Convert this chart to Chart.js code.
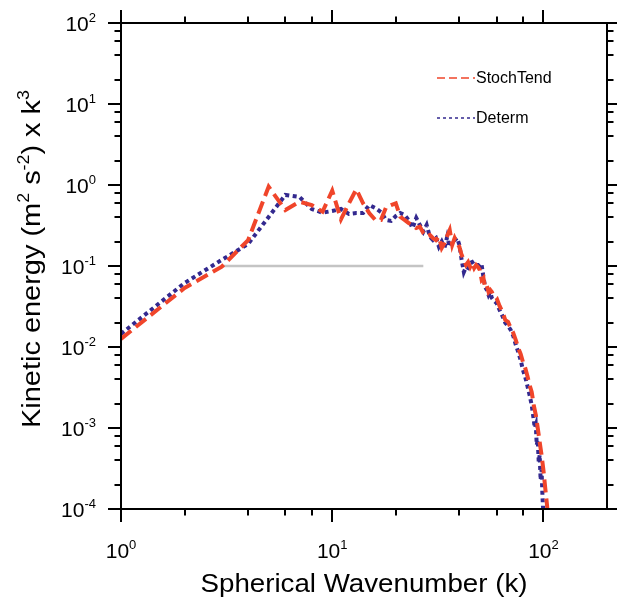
<!DOCTYPE html>
<html>
<head>
<meta charset="utf-8">
<script src="https://cdn.jsdelivr.net/npm/chart.js@4.4.1/dist/chart.umd.min.js"></script>
<style>
  html, body { margin: 0; padding: 0; background: #fff; }
</style>
</head>
<body>
<canvas id="myChart" width="617" height="598"></canvas>
<script>
// Spectra (kinetic energy x k^3 against spherical wavenumber)
const stochK = [1, 2, 3, 4, 5, 6, 7, 8, 9, 10, 11, 12, 13, 14, 15, 16, 17, 18, 19, 20,
  21, 22, 23, 24, 25, 26, 27, 28, 29, 30, 31, 32, 33, 34, 35, 36, 37, 38, 39, 40,
  41, 42, 43, 44, 45, 46, 47, 48, 49, 50, 51, 52, 53, 54, 55, 56, 57, 58, 60, 62,
  64, 66, 68, 70, 72, 74, 76, 78, 80, 82, 84, 86, 88, 90, 92, 94, 96, 98, 100, 102, 104, 106];
const stochE = [0.0126, 0.0535, 0.098, 0.209, 0.953, 0.491, 0.622, 0.566, 0.468, 0.851,
  0.377, 0.594, 0.885, 0.594, 0.448, 0.370, 0.370, 0.531, 0.566, 0.594,
  0.406, 0.370, 0.340, 0.321, 0.294, 0.306, 0.255, 0.230, 0.241, 0.220,
  0.209, 0.230, 0.167, 0.192, 0.235, 0.278, 0.182, 0.222, 0.192, 0.172,
  0.137, 0.119, 0.103, 0.112, 0.0972, 0.109, 0.0944, 0.103, 0.0972, 0.0893,
  0.0672, 0.0711, 0.0535, 0.0566, 0.0478, 0.0506, 0.0478, 0.0426, 0.0403, 0.0321,
  0.0270, 0.0215, 0.0204, 0.0172, 0.0149, 0.0122, 0.00972, 0.00820, 0.00653, 0.00551,
  0.00439, 0.00340, 0.00278, 0.00192, 0.00145, 0.00100, 0.000672, 0.000464, 0.000303,
  0.000182, 0.000112, 0.0000634];

const determK = [1, 2, 3, 4, 5, 6, 7, 8, 9, 10, 11, 12, 13, 14, 15, 16, 17, 18, 19, 20,
  21, 22, 23, 24, 25, 26, 27, 28, 29, 30, 31, 32, 33, 34, 35, 36, 37, 38, 39, 40,
  41, 42, 43, 44, 45, 46, 47, 48, 49, 50, 51, 52, 53, 54, 55, 56, 57, 58, 60, 62,
  64, 66, 68, 70, 72, 74, 76, 78, 80, 82, 84, 86, 88, 90, 91, 92, 93, 94, 95, 96,
  97, 98, 99, 100];
const determE = [0.0145, 0.0617, 0.119, 0.187, 0.403, 0.753, 0.711, 0.506, 0.455, 0.478,
  0.506, 0.439, 0.451, 0.451, 0.566, 0.520, 0.464, 0.370, 0.360, 0.414,
  0.451, 0.426, 0.370, 0.294, 0.392, 0.321, 0.265, 0.321, 0.230, 0.209,
  0.222, 0.173, 0.200, 0.167, 0.228, 0.172, 0.209, 0.209, 0.222, 0.182,
  0.119, 0.0843, 0.0972, 0.0944, 0.109, 0.112, 0.103, 0.103, 0.103, 0.0972,
  0.103, 0.0731, 0.0551, 0.0506, 0.0439, 0.0478, 0.0403, 0.0380, 0.0349, 0.0286,
  0.0241, 0.0198, 0.0182, 0.0162, 0.0137, 0.0106, 0.00867, 0.00691, 0.00520, 0.00426,
  0.00330, 0.00255, 0.00192, 0.00126, 0.00100, 0.00109, 0.000617, 0.000711, 0.000380, 0.000464,
  0.000228, 0.000303, 0.000141, 0.0000843];

// grey reference line
const refK = [3, 27];
const refE = [0.1, 0.1];

// axes
const xMin = 1, xMax = 200;
const yMin = 1e-4, yMax = 100;
const xMajor = [1, 10, 100];
const xMajorExp = ['0', '1', '2'];
const yMajor = [1e-4, 1e-3, 1e-2, 1e-1, 1, 10, 100];
const yMajorExp = ['-4', '-3', '-2', '-1', '0', '1', '2'];
const minorMult = [2, 4, 6, 8];

const FONT = '"Liberation Sans", Arial, Helvetica, sans-serif';

function toPoints(ks, es) {
    return ks.map((k, i) => ({ x: k, y: es[i] }));
}

function minorTicks(lo, hi) {
    const out = [];
    for (let d = Math.floor(Math.log10(lo)); d <= Math.ceil(Math.log10(hi)); d++) {
        minorMult.forEach(m => {
            const v = m * Math.pow(10, d);
            if (v > lo && v < hi) out.push(v);
        });
    }
    return out;
}

// text made of runs, some of them superscripts
function runsWidth(ctx, runs, size) {
    let w = 0;
    runs.forEach(r => {
        ctx.font = (r.sup ? Math.round(size * 0.62) : size) + 'px ' + FONT;
        w += ctx.measureText(r.t).width;
    });
    return w;
}

function drawRuns(ctx, runs, x, y, size) {
    let cx = x;
    runs.forEach(r => {
        ctx.font = (r.sup ? Math.round(size * 0.62) : size) + 'px ' + FONT;
        ctx.fillText(r.t, cx, r.sup ? y - size * 0.42 : y);
        cx += ctx.measureText(r.t).width;
    });
}

const frameAndLabels = {
    id: 'frameAndLabels',
    afterDraw(chart) {
        const { ctx, chartArea: a, scales: { x, y } } = chart;
        ctx.save();
        ctx.strokeStyle = '#000';
        ctx.fillStyle = '#000';
        ctx.lineWidth = 2;
        ctx.strokeRect(a.left, a.top, a.right - a.left, a.bottom - a.top);

        const majorLen = 13, minorLen = 6.5;
        ctx.beginPath();
        const xTick = (v, len) => {
            const px = Math.round(x.getPixelForValue(v));
            ctx.moveTo(px, a.bottom); ctx.lineTo(px, a.bottom + len);
            ctx.moveTo(px, a.top); ctx.lineTo(px, a.top - len);
        };
        const yTick = (v, len) => {
            const py = Math.round(y.getPixelForValue(v));
            ctx.moveTo(a.left, py); ctx.lineTo(a.left - len, py);
            ctx.moveTo(a.right, py); ctx.lineTo(a.right + len, py);
        };
        xMajor.forEach(v => xTick(v, majorLen));
        minorTicks(xMin, xMax).forEach(v => xTick(v, minorLen));
        yMajor.forEach(v => yTick(v, majorLen));
        minorTicks(yMin, yMax).forEach(v => yTick(v, minorLen));
        ctx.stroke();

        // tick labels
        const ts = 21;
        ctx.textAlign = 'left';
        ctx.textBaseline = 'alphabetic';
        xMajor.forEach((v, i) => {
            const runs = [{ t: '10' }, { t: xMajorExp[i], sup: true }];
            const w = runsWidth(ctx, runs, ts);
            drawRuns(ctx, runs, x.getPixelForValue(v) - w / 2, 558, ts);
        });
        yMajor.forEach((v, i) => {
            const runs = [{ t: '10' }, { t: yMajorExp[i], sup: true }];
            const w = runsWidth(ctx, runs, ts);
            drawRuns(ctx, runs, 96 - w, y.getPixelForValue(v) + 7.5, ts);
        });

        // axis titles (the original font is a little wider, so fit to its width)
        const titleSize = 26;
        const xRuns = [{ t: 'Spherical Wavenumber (k)' }];
        const xw = runsWidth(ctx, xRuns, titleSize);
        ctx.save();
        ctx.translate((a.left + a.right) / 2, 592);
        ctx.scale(327 / xw, 1);
        drawRuns(ctx, xRuns, -xw / 2, 0, titleSize);
        ctx.restore();

        const yRuns = [{ t: 'Kinetic energy (m' }, { t: '2', sup: true }, { t: ' s' },
            { t: '-2', sup: true }, { t: ') x k' }, { t: '3', sup: true }];
        const yw = runsWidth(ctx, yRuns, titleSize);
        ctx.save();
        ctx.translate(40, 259);
        ctx.rotate(-Math.PI / 2);
        ctx.scale(338 / yw, 1);
        drawRuns(ctx, yRuns, -yw / 2, 0, titleSize);
        ctx.restore();

        // legend
        const items = [
            { ds: chart.data.datasets[0], y: 78, dash: [8, 4] },
            { ds: chart.data.datasets[1], y: 118, dash: [3, 3] }
        ];
        items.forEach(it => {
            ctx.beginPath();
            ctx.setLineDash(it.dash);
            ctx.strokeStyle = it.ds.borderColor;
            ctx.lineWidth = 1.5;
            ctx.moveTo(437, it.y);
            ctx.lineTo(475, it.y);
            ctx.stroke();
            ctx.setLineDash([]);
            ctx.fillStyle = '#000';
            ctx.font = '16px ' + FONT;
            ctx.fillText(it.ds.label, 476, it.y + 5);
        });
        ctx.restore();
    }
};

const chart = new Chart(document.getElementById('myChart').getContext('2d'), {
    type: 'line',
    data: {
        datasets: [
            {
                label: 'StochTend',
                data: toPoints(stochK, stochE),
                borderColor: '#f0452a',
                borderWidth: 4,
                borderDash: [13, 6],
                pointRadius: 0,
                tension: 0,
                clip: 0
            },
            {
                label: 'Determ',
                data: toPoints(determK, determE),
                borderColor: '#33298f',
                borderWidth: 4,
                borderDash: [4, 3.5],
                pointRadius: 0,
                tension: 0,
                clip: 0
            },
            {
                label: '',
                data: toPoints(refK, refE),
                borderColor: '#c4c4c4',
                borderWidth: 2.5,
                pointRadius: 0,
                clip: 0
            }
        ]
    },
    options: {
        responsive: false,
        animation: false,
        events: [],
        layout: { padding: { left: 121, top: 23, right: 10, bottom: 89 } },
        scales: {
            x: { type: 'logarithmic', min: xMin, max: xMax, display: false },
            y: { type: 'logarithmic', min: yMin, max: yMax, display: false }
        },
        plugins: {
            legend: { display: false },
            tooltip: { enabled: false }
        }
    },
    plugins: [frameAndLabels]
});
</script>
</body>
</html>
